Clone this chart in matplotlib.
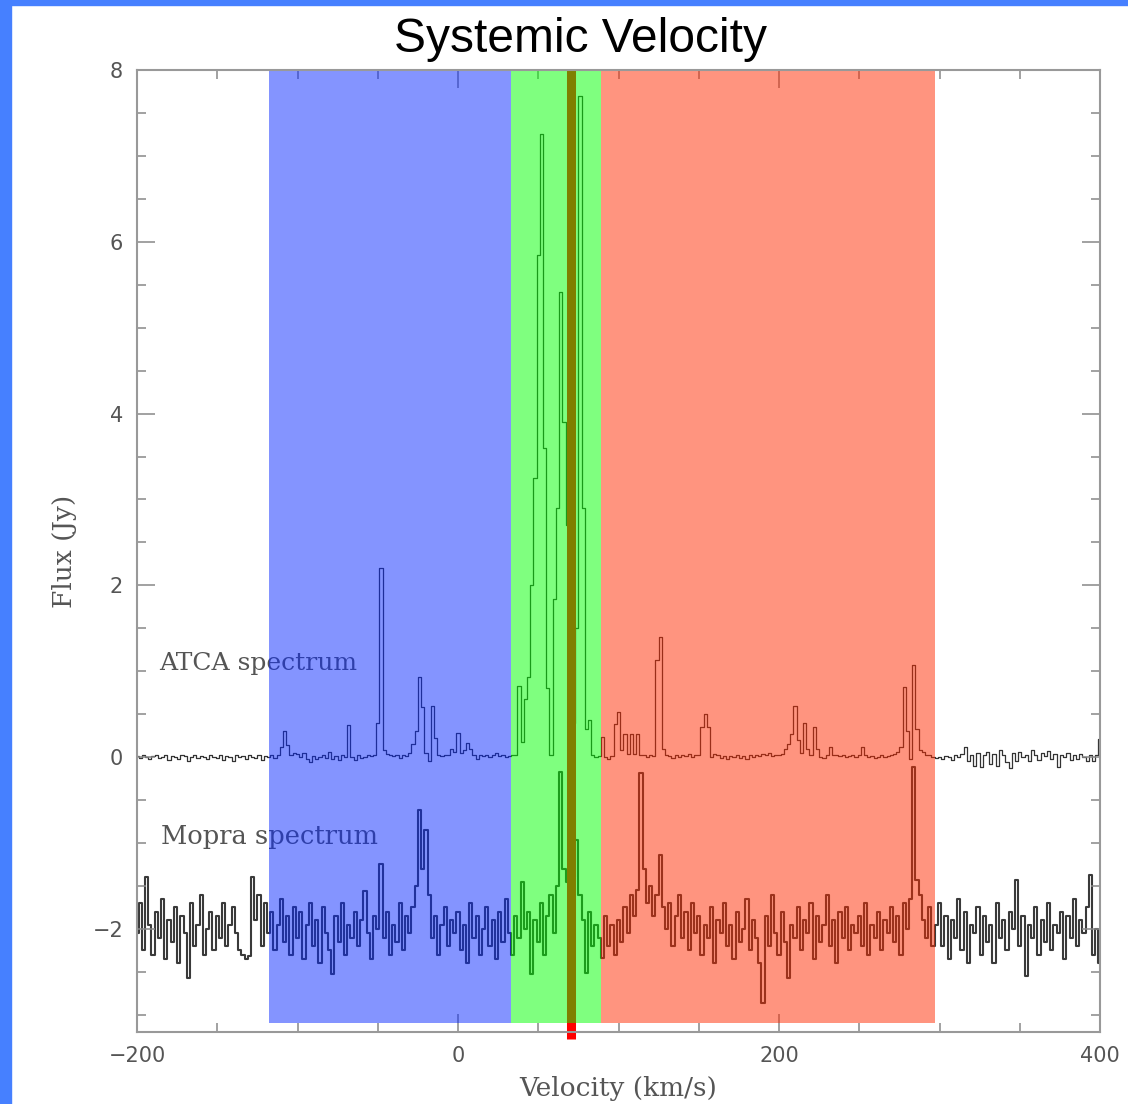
import numpy as np
import matplotlib
matplotlib.use('Agg')
import matplotlib.pyplot as plt
from matplotlib.patches import Rectangle

# velocity grid (km/s), 2 km/s channels
velocity = np.arange(-200, 401, 2)

# ATCA spectrum (Jy)
atca = [
    0.01, -0.01, 0.02, 0.0, -0.02, 0.01, 0.03, -0.01, 0.0, 0.02, -0.03, 0.01, 0.0, -0.02, 0.02, 0.01, -0.04, 0.0, 0.02, -0.01, 0.01, 0.0, -0.02, 0.03, 0.0,
    -0.01, 0.02, -0.03, 0.01, 0.0, -0.05, 0.02, 0.0, 0.01, -0.02, 0.03, 0.0, -0.01, 0.02, -0.03, 0.01, 0.0, 0.02, -0.01, 0.02, 0.12, 0.30, 0.14, 0.02, 0.05,
    0.04, 0.0, 0.05, -0.02, -0.06, 0.01, -0.02, 0.0, 0.03, -0.01, 0.06, -0.02, 0.01, -0.03, 0.02, 0.0, 0.38, 0.0, -0.03, 0.02, -0.01, 0.0, 0.02, 0.01, 0.03,
    0.40, 2.20, 0.08, 0.04, 0.02, 0.01, 0.03, -0.01, 0.02, 0.01, 0.05, 0.15, 0.30, 0.93, 0.58, 0.05, -0.04, 0.60, 0.22, 0.02, 0.01, 0.03, 0.03, 0.10, 0.06,
    0.28, 0.05, 0.08, 0.16, 0.10, 0.03, -0.02, 0.02, 0.01, 0.03, 0.0, 0.02, 0.05, 0.01, 0.02, 0.0, 0.01, 0.02, 0.03, 0.83, 0.18, 0.68, 0.93, 2.00, 3.25,
    5.85, 7.26, 3.60, 0.80, 0.02, 1.84, 2.90, 5.42, 3.90, 2.70, 1.20, 0.40, 1.50, 7.70, 2.90, 0.33, 0.43, 0.02, 0.0, 0.01, 0.24, 0.0, -0.02, 0.01, 0.39,
    0.53, 0.08, 0.27, 0.04, 0.27, 0.04, 0.27, 0.03, 0.02, 0.0, 0.02, 0.01, 1.13, 1.40, 0.10, 0.02, 0.01, -0.01, 0.02, 0.0, 0.03, 0.01, 0.04, 0.0, 0.02,
    0.03, 0.35, 0.50, 0.35, 0.0, 0.04, 0.02, -0.01, 0.01, -0.02, 0.01, 0.0, 0.02, -0.01, 0.01, -0.02, 0.02, 0.0, 0.03, 0.01, 0.04, 0.02, 0.05, 0.01, 0.03,
    0.02, 0.04, 0.10, 0.15, 0.27, 0.60, 0.20, 0.05, 0.40, 0.10, 0.03, 0.35, 0.10, 0.0, -0.01, 0.02, 0.12, 0.02, 0.03, 0.01, 0.02, 0.0, 0.01, 0.03, 0.0,
    0.02, 0.12, 0.02, 0.0, 0.01, -0.01, 0.0, 0.02, 0.0, 0.01, 0.02, 0.04, 0.06, 0.12, 0.82, 0.30, -0.02, 1.07, 0.33, 0.08, 0.06, 0.03, 0.02, 0.0, -0.01,
    0.0, -0.02, 0.01, 0.0, -0.03, 0.02, 0.0, 0.04, 0.12, -0.05, 0.03, -0.10, 0.05, -0.12, 0.02, 0.06, -0.08, 0.04, -0.10, 0.08, 0.02, -0.06, -0.13, 0.05, -0.04,
    0.06, 0.0, 0.03, -0.05, 0.08, 0.02, -0.03, 0.05, 0.01, 0.07, -0.02, 0.04, -0.12, 0.03, 0.0, 0.05, -0.03, 0.02, -0.02, 0.04, 0.0, -0.05, 0.02, -0.04, 0.03,
    0.21,
]

# Mopra spectrum (Jy, offset by -2)
mopra = [
    -2.05, -1.70, -2.25, -1.39, -1.95, -2.30, -1.80, -2.10, -1.65, -2.35, -1.90, -2.15, -1.75, -2.40, -1.85, -2.05, -2.57, -1.70, -2.20, -1.95, -1.60, -2.30, -2.00, -1.80, -2.25,
    -1.85, -2.10, -1.70, -2.20, -1.95, -1.75, -2.05, -2.25, -2.30, -2.35, -2.32, -1.39, -1.90, -1.60, -2.20, -1.70, -2.05, -1.80, -2.25, -1.95, -1.65, -2.15, -1.85, -2.30, -1.75,
    -2.10, -1.80, -2.35, -1.95, -1.70, -2.20, -1.90, -2.40, -1.75, -2.05, -2.25, -2.53, -1.85, -2.15, -1.70, -2.30, -1.95, -2.10, -1.80, -2.20, -1.90, -1.56, -2.05, -2.35, -1.85,
    -2.00, -1.24, -2.10, -1.80, -2.30, -1.95, -2.15, -1.70, -2.25, -1.85, -2.05, -1.75, -1.50, -0.62, -1.30, -0.85, -1.60, -2.10, -1.85, -2.30, -1.95, -1.75, -2.20, -1.90, -2.05,
    -1.80, -2.25, -1.95, -2.40, -1.70, -2.10, -1.85, -2.30, -2.00, -1.75, -2.20, -1.90, -2.35, -1.80, -2.15, -1.65, -2.05, -2.30, -1.85, -2.10, -1.45, -2.00, -1.80, -2.53, -1.90,
    -2.15, -1.70, -2.30, -1.85, -1.60, -2.05, -1.50, -0.17, -1.30, -1.45, -1.70, -1.40, -0.97, -1.60, -1.90, -2.51, -1.80, -2.20, -1.95, -2.10, -2.34, -1.85, -2.20, -1.95, -2.30,
    -1.90, -2.15, -1.75, -2.05, -1.60, -1.85, -1.55, -0.19, -1.30, -1.70, -1.50, -1.85, -1.60, -1.14, -1.75, -2.00, -1.70, -2.20, -1.85, -1.60, -2.10, -1.80, -2.25, -1.70, -2.05,
    -1.85, -2.30, -1.95, -2.10, -1.75, -2.40, -1.90, -2.05, -1.70, -2.20, -1.95, -2.35, -1.80, -2.15, -2.00, -1.65, -2.25, -1.90, -2.10, -2.40, -2.86, -1.85, -2.20, -1.60, -2.05,
    -2.30, -1.80, -2.15, -2.57, -1.95, -2.10, -1.75, -2.25, -1.90, -2.05, -1.70, -2.35, -1.85, -2.15, -1.95, -1.60, -2.20, -1.90, -2.40, -1.80, -2.10, -1.75, -2.25, -1.95, -2.05,
    -1.85, -2.20, -1.70, -2.30, -1.95, -2.10, -1.80, -2.25, -1.90, -2.05, -1.75, -2.15, -1.85, -2.30, -1.70, -2.00, -1.65, -0.11, -1.43, -1.60, -1.90, -2.10, -1.75, -2.20, -1.95,
    -1.70, -2.20, -1.85, -2.35, -1.90, -2.10, -1.65, -2.25, -1.80, -2.40, -1.95, -2.05, -1.75, -2.30, -1.85, -2.15, -1.95, -2.40, -1.70, -2.10, -1.90, -2.25, -1.80, -2.00, -1.43,
    -2.20, -1.85, -2.55, -1.95, -2.10, -1.75, -2.30, -1.90, -2.15, -1.70, -2.25, -1.95, -2.05, -1.80, -2.35, -1.85, -2.10, -1.65, -2.20, -1.90, -2.05, -1.75, -1.37, -2.30, -2.00,
    -2.40,
]

# velocity ranges of the coloured bands and the systemic velocity
band_edges = [-118, 33, 89, 297]
band_colors = ['#0a2bff', '#00ff00', '#ff2b00']
v_sys = 70.5

fig = plt.figure(figsize=(11.28, 11.04), dpi=100)

# blue slide frame
fig.patches.append(Rectangle((0, 0), 11 / 1128, 1, transform=fig.transFigure, color='#4680ff', zorder=0))
fig.patches.append(Rectangle((0, 1 - 5 / 1104), 1, 5 / 1104, transform=fig.transFigure, color='#4680ff', zorder=0))

ax = fig.add_axes([137 / 1128, 72 / 1104, 963 / 1128, 962 / 1104])

ax.plot(velocity, atca, drawstyle='steps-mid', color='#333333', lw=0.9, zorder=1)
ax.plot(velocity, mopra, drawstyle='steps-mid', color='#3a3a3a', lw=1.5, zorder=1)

# systemic velocity line (red, shows olive through the green band)
ax.plot([v_sys, v_sys], [-3.28, 8], color='#ff0000', lw=6.5, solid_capstyle='butt', clip_on=False, zorder=1.5)

for i in range(3):
    ax.add_patch(Rectangle((band_edges[i], -3.1), band_edges[i + 1] - band_edges[i], 11.1,
                           facecolor=band_colors[i], alpha=0.5, lw=0, zorder=2))

ax.text(-186, 1.09, 'ATCA spectrum', fontsize=18, family='DejaVu Serif', color='#555555', va='center', zorder=1)
ax.text(-185, -0.92, 'Mopra spectrum', fontsize=18.5, family='DejaVu Serif', color='#555555', va='center', zorder=1)

ax.set_xlim(-200, 400)
ax.set_ylim(-3.2, 8)
ax.set_xticks([-200, 0, 200, 400])
ax.set_xticks(np.arange(-200, 401, 50), minor=True)
ax.set_yticks([-2, 0, 2, 4, 6, 8])
ax.set_yticks(np.arange(-3, 8.1, 0.5), minor=True)
ax.set_xticklabels(['\u2212200', '0', '200', '400'])
ax.set_yticklabels(['\u22122', '0', '2', '4', '6', '8'])
ax.tick_params(which='both', direction='in', top=True, right=True, colors='#888888', labelcolor='#555555', labelsize=15)
ax.tick_params(which='major', length=13, width=1.1, pad=10)
ax.tick_params(which='minor', length=6.5, width=1.1)
for s in ax.spines.values():
    s.set_color('#999999')
    s.set_linewidth(1.5)

ax.set_xlabel('Velocity (km/s)', fontsize=19, family='DejaVu Serif', color='#555555', labelpad=7)
ax.set_ylabel('Flux (Jy)', fontsize=19, family='DejaVu Serif', color='#555555', labelpad=11)

fig.text(581 / 1128, 1 - 40 / 1104, 'Systemic Velocity', fontsize=34.5, family='Liberation Sans', ha='center', va='center')

plt.savefig('out.png', dpi=100)
